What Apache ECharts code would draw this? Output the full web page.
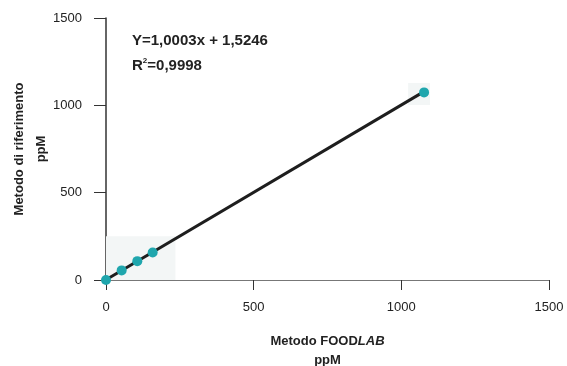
<!DOCTYPE html>
<html><head><meta charset="utf-8">
<script src="https://cdn.jsdelivr.net/npm/echarts@6/dist/echarts.min.js"></script>
<style>html,body{margin:0;padding:0;background:#fff}#c{width:567px;height:366px}</style>
</head><body><div id="c"></div>
<script>
var pointsX = [0, 53, 106, 158, 1077];
var pointsY = [0, 55, 108, 157, 1074];
var lineX = [0, 1065];
var lineY = [1.5, 1067];
var xTicks = [0, 500, 1000, 1500];
var yTicks = [0, 500, 1000, 1500];
var eqText = 'Y=1,0003x + 1,5246';
var r2Text = '0,9998';

var FONT = "'Liberation Sans',Arial,sans-serif";
var chart = echarts.init(document.getElementById('c'));
chart.setOption({
  animation: false,
  grid: {left: 106, right: 18, top: 18, bottom: 86, containLabel: false, outerBoundsMode: 'none'},
  xAxis: {
    type: 'value', min: 0, max: 1500, interval: 500,
    name: '{b|Metodo FOOD}{i|LAB}\n{b|ppM}',
    nameLocation: 'middle', nameGap: 52, nameMoveOverlap: false,
    nameTextStyle: {rich: {
      b: {fontFamily: FONT, fontWeight: 'bold', fontSize: 13, color: '#222', lineHeight: 19},
      i: {fontFamily: FONT, fontWeight: 'bold', fontStyle: 'italic', fontSize: 13, color: '#222', lineHeight: 19}
    }},
    axisLine: {show: true, lineStyle: {color: '#777', width: 1}},
    axisTick: {show: true, inside: false, length: 10, lineStyle: {color: '#333', width: 1}},
    axisLabel: {fontFamily: FONT, fontSize: 13, color: '#222', margin: 21,
      formatter: function(v){ return String(v); }},
    splitLine: {show: false}
  },
  yAxis: {
    type: 'value', min: 0, max: 1500, interval: 500,
    name: 'Metodo di riferimento\nppM',
    nameLocation: 'middle', nameGap: 54, nameRotate: 90, nameMoveOverlap: false,
    nameTextStyle: {fontFamily: FONT, fontWeight: 'bold', fontSize: 13, color: '#222', lineHeight: 22},
    axisLine: {show: true, lineStyle: {color: '#333', width: 1.5}},
    axisTick: {show: true, length: 12, lineStyle: {color: '#333', width: 1}},
    axisLabel: {fontFamily: FONT, fontSize: 13, color: '#222', margin: 24,
      formatter: function(v){ return String(v); }},
    splitLine: {show: false}
  },
  series: [
    {
      type: 'line', data: lineX.map(function(x, i){ return [x, lineY[i]]; }),
      symbol: 'none', lineStyle: {color: '#1e1e1e', width: 3},
      markArea: {silent: true, itemStyle: {color: '#f3f6f6'}, data: [
        [{coord: [-10, 250]}, {coord: [235, -30]}],
        [{coord: [1023, 1128]}, {coord: [1097, 1002]}]
      ]},
      z: 2
    },
    {
      type: 'scatter', data: pointsX.map(function(x, i){ return [x, pointsY[i]]; }),
      symbolSize: 10, itemStyle: {color: '#1fa6ad', opacity: 1}, z: 3
    }
  ],
  graphic: [
    {type: 'text', left: 132, top: 33, style: {text: eqText, font: 'bold 15px ' + FONT, fill: '#222'}},
    {type: 'text', left: 132, top: 57, style: {
      text: '{a|R}{s|2}{a|=' + r2Text + '}',
      rich: {a: {fontFamily: FONT, fontWeight: 'bold', fontSize: 15, fill: '#222', verticalAlign: 'bottom'},
             s: {fontFamily: FONT, fontWeight: 'bold', fontSize: 8, fill: '#222', verticalAlign: 'top', padding: [0,0,8,0]}}
    }}
  ]
});
</script></body></html>
